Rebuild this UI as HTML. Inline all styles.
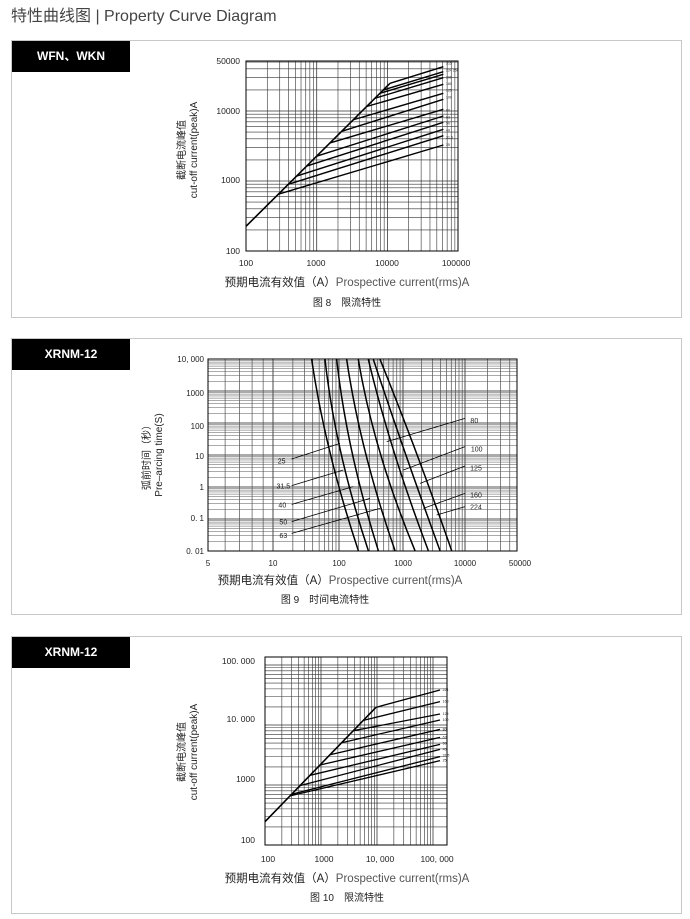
<!DOCTYPE html>
<html><head><meta charset="utf-8">
<style>
body{margin:0;background:#fff;width:690px;height:919px;overflow:hidden;font-family:"Liberation Sans","Noto Sans CJK SC",sans-serif;}
.title{position:absolute;left:11px;top:2px;font-size:16px;color:#444;}
.panel{position:absolute;left:11px;width:671px;border:1px solid #c8c8c8;box-sizing:border-box;}
.tab{position:absolute;left:0;top:0;width:118px;height:31px;background:#000;color:#fff;font-weight:bold;font-size:12px;line-height:31px;text-align:center;}
svg{position:absolute;left:0;top:0;}
</style></head><body>
<div class="title">特性曲线图 | Property Curve Diagram</div>
<div class="panel" style="top:40px;height:278px"><div class="tab">WFN、WKN</div></div>
<div class="panel" style="top:338px;height:277px"><div class="tab">XRNM-12</div></div>
<div class="panel" style="top:636px;height:278px"><div class="tab">XRNM-12</div></div>
<svg id="s" width="690" height="919" xmlns="http://www.w3.org/2000/svg" font-family="Liberation Sans, Noto Sans CJK SC, sans-serif"></svg>
<script>
var s=document.getElementById('s'),h='';
function L(x1,y1,x2,y2,w,c,d){h+='<line x1="'+x1+'" y1="'+y1+'" x2="'+x2+'" y2="'+y2+'" stroke="'+(c||'#000')+'" stroke-width="'+(w||1)+'"'+(d?' stroke-dasharray="'+d+'"':'')+'/>';}
function T(x,y,t,fs,a,extra){h+='<text x="'+x+'" y="'+y+'" font-size="'+fs+'" text-anchor="'+(a||'middle')+'" fill="#222" '+(extra||'')+'>'+t+'</text>';}
function lg(v){return Math.log(v)/Math.LN10;}
// generic log grid: x from v0 at px0, decade dx ; clip to box
function grid(bx0,bx1,by0,by1,xv0,dx,yv0,dy,col,w){
  for(var e=-3;e<7;e++)for(var m=1;m<10;m++){var v=m*Math.pow(10,e);
    var x=bx0+(lg(v)-lg(xv0))*dx; if(x>=bx0-0.1&&x<=bx1+0.1)L(x,by0,x,by1,m==1?w*1.3:w,col);
    var y=by1-(lg(v)-lg(yv0))*dy; if(y>=by0-0.1&&y<=by1+0.1)L(bx0,y,bx1,y,m==1?w*1.3:w,col);}
  h+='<rect x="'+bx0+'" y="'+by0+'" width="'+(bx1-bx0)+'" height="'+(by1-by0)+'" fill="none" stroke="#000" stroke-width="1"/>';
}
// ---------- Chart 1 ----------
grid(246,458,61,251,100,70.7,100,70,'#333',0.6);
function g1(x){return x/3+160} function g1y(y){return y/3+40}
var bx=[355,385,410,440,470,510,545,580,620,645,660,670,690],ey=[315,287,268,247,228,208,178,160,133,113,103,95,80];
L(g1(258),g1y(559),g1(690),g1y(130),1.6);
for(var i=0;i<bx.length;i++){var yy=559-0.993*(bx[i]-258);L(g1(bx[i]),g1y(yy),g1(850),g1y(ey[i]),1.4);}
var lab1=['25','31.5','40','50','63','80','100','125','160','200','224 250','315'],ly1=[315,293,271,251,232,212,172,152,132,112,92,70];
for(i=0;i<lab1.length;i++)T(g1(858),g1y(ly1[i])+1,lab1[i],3.5,'start');
T(240,64,'50000',8.5,'end');T(240,114,'10000',8.5,'end');T(240,183,'1000',8.5,'end');T(240,254,'100',8.5,'end');
T(246,266,'100',8.5);T(316,266,'1000',8.5);T(387,266,'10000',8.5);T(456,266,'100000',8.5);
T(185,150,'截断电流峰值',10,'middle','transform="rotate(-90 185 150)"');
T(197,150,'cut-off current(peak)A',10,'middle','transform="rotate(-90 197 150)"');
T(347,286,'预期电流有效值（A）<tspan fill="#555">Prospective current(rms)A</tspan>',11.5);
T(347,306,'图 8　限流特性',10);
// ---------- Chart 2 ----------
function x2(v){var p=[[5,208],[10,273],[100,339],[1000,403],[10000,465],[50000,517]];
 for(var k=0;k<p.length-1;k++)if(v<=p[k+1][0]){return p[k][1]+(lg(v)-lg(p[k][0]))/(lg(p[k+1][0])-lg(p[k][0]))*(p[k+1][1]-p[k][1]);}return 517;}
for(var e=0;e<5;e++)for(var m=1;m<10;m++){var v=m*Math.pow(10,e);if(v>=5&&v<=50000)L(x2(v),359,x2(v),551,m==1?0.9:0.6,'#333');}
for(e=-2;e<4;e++)for(m=1;m<10;m++){var y=551-(lg(m*Math.pow(10,e))+2)*32;if(y>=358.9)L(208,y,517,y,m==1?0.9:0.5,'#555');}
h+='<rect x="208" y="359" width="309" height="192" fill="none" stroke="#000"/>';
function g2(x){return x/3+140} function g2y(y){return y/3+340}
var c2=[[515,575,655],[555,605,685],[590,640,715],[620,680,765],[655,720,825],[685,770,865],[700,810,900],[720,850,935]];
for(i=0;i<c2.length;i++){var c=c2[i];
 h+='<path d="M'+g2(c[0])+' '+g2y(58)+' Q'+g2(c[1]-20)+' '+g2y(330)+' '+g2(c[2])+' '+g2y(632)+'" fill="none" stroke="#000" stroke-width="1.5"/>';}
// leader lines
var ll=[[455,357,600,310,'25',425,365],[455,437,610,390,'31.5',430,440],[455,493,640,440,'40',427,497],[455,545,690,475,'50',430,548],[455,580,720,505,'63',430,588]];
for(i=0;i<ll.length;i++){var q=ll[i];L(g2(q[0]),g2y(q[1]),g2(q[2]),g2y(q[3]),0.8);T(g2(q[5]),g2y(q[6])+2,q[4],7);}
var rl=[[740,305,975,235,'80',1003,243],[790,390,975,320,'100',1010,328],[840,430,975,378,'125',1008,386],[850,505,975,460,'160',1008,466],[890,525,975,500,'224',1008,503]];
for(i=0;i<rl.length;i++){var q=rl[i];L(g2(q[0]),g2y(q[1]),g2(q[2]),g2y(q[3]),0.8);T(g2(q[5]),g2y(q[6])+2,q[4],7);}
var yl=[['10, 000',359],['1000',393],['100',426],['10',456],['1',487],['0. 1',518],['0. 01',551]];
for(i=0;i<yl.length;i++)T(204,yl[i][1]+3,yl[i][0],8,'end');
var xl=[['5',208],['10',273],['100',339],['1000',403],['10000',465],['50000',520]];
for(i=0;i<xl.length;i++)T(xl[i][1],566,xl[i][0],8);
T(150,455,'弧前时间（秒）',10,'middle','transform="rotate(-90 150 455)"');
T(162,455,'Pre–arcing time(S)',10,'middle','transform="rotate(-90 162 455)"');
T(340,584,'预期电流有效值（A）<tspan fill="#555">Prospective current(rms)A</tspan>',11.5);
T(325,603,'图 9　时间电流特性',10);
// ---------- Chart 3 ----------
grid(265,447,657,845,100,56,100,60,'#333',0.6);
function g3(x){return x/3+160} function g3y(y){return y/3+640}
L(g3(315),g3y(545),g3(648),g3y(202),1.6);
var bx3=[390,395,420,450,480,510,545,580,610,648],ey3=[362,350,328,313,292,268,240,222,185,150];
for(i=0;i<bx3.length;i++){var yy=545-1.03*(bx3[i]-315);L(g3(bx3[i]),g3y(yy),g3(840),g3y(ey3[i]),1.3);}
var lab3=['25','31.5','40','50','63','80','100','125','160','224'],ly3=[362,347,328,310,292,268,240,222,185,150];
for(i=0;i<lab3.length;i++)T(g3(848),g3y(ly3[i])+1,lab3[i],3.5,'start');
T(255,664,'100. 000',8.5,'end');T(255,722,'10. 000',8.5,'end');T(255,782,'1000',8.5,'end');T(255,843,'100',8.5,'end');
T(268,862,'100',8.5);T(324,862,'1000',8.5);T(380,862,'10, 000',8.5);T(437,862,'100, 000',8.5);
T(185,752,'截断电流峰值',10,'middle','transform="rotate(-90 185 752)"');
T(197,752,'cut-off current(peak)A',10,'middle','transform="rotate(-90 197 752)"');
T(347,882,'预期电流有效值（A）<tspan fill="#555">Prospective current(rms)A</tspan>',11.5);
T(347,901,'图 10　限流特性',10);
s.innerHTML=h;
</script>
</body></html>
